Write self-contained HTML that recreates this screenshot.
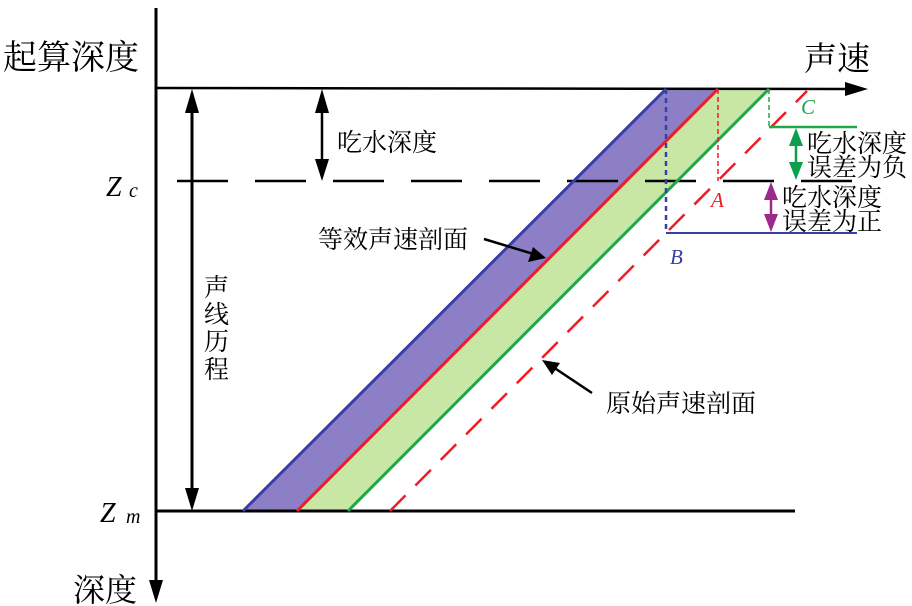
<!DOCTYPE html>
<html><head><meta charset="utf-8"><style>
html,body{margin:0;padding:0;background:#fff;}
svg{display:block;}
text{font-family:"Liberation Serif","Noto Serif CJK SC",serif;}
.cn{font-family:"Liberation Serif","Noto Serif CJK SC","Noto Sans CJK SC",serif;}
</style></head><body>
<svg width="912" height="606" viewBox="0 0 912 606" xmlns="http://www.w3.org/2000/svg">
<polygon points="243,511 666,89 718,89 297,511" fill="#8c7fc6"/>
<polygon points="297,511 718,89 769,89 348,511" fill="#c8e7a4"/>
<line x1="156" y1="8" x2="156" y2="588" stroke="#000" stroke-width="3"/>
<polygon points="149,580 163,580 156,603" fill="#000"/>
<line x1="157" y1="88" x2="850" y2="89" stroke="#000" stroke-width="2.5"/>
<polygon points="845,82 845,96 868,89" fill="#000"/>
<line x1="157" y1="511" x2="795" y2="511" stroke="#000" stroke-width="3"/>
<line x1="177" y1="181" x2="858" y2="181" stroke="#000" stroke-width="2.5" stroke-dasharray="51,27"/>
<line x1="243" y1="511" x2="666" y2="89" stroke="#3a3fa8" stroke-width="3"/>
<line x1="297" y1="511" x2="718" y2="89" stroke="#ee1c25" stroke-width="3"/>
<line x1="348" y1="511" x2="769" y2="89" stroke="#1fa84a" stroke-width="3"/>
<line x1="390" y1="511" x2="807" y2="91" stroke="#ee1c25" stroke-width="2.5" stroke-dasharray="22,14"/>
<line x1="666" y1="89" x2="666" y2="233" stroke="#3a3fa8" stroke-width="2.5" stroke-dasharray="5,4"/>
<line x1="718" y1="89" x2="718" y2="181" stroke="#ee1c25" stroke-width="1.5" stroke-dasharray="5,3"/>
<line x1="769" y1="89" x2="769" y2="127" stroke="#1fa84a" stroke-width="1.5" stroke-dasharray="5,3"/>
<line x1="666" y1="233" x2="857" y2="233" stroke="#3a3fa8" stroke-width="2"/>
<line x1="769" y1="127" x2="857" y2="127" stroke="#1fa84a" stroke-width="2.5"/>
<line x1="796" y1="138" x2="796" y2="170" stroke="#0aa04a" stroke-width="2.5"/>
<polygon points="789,146 803,146 796,128" fill="#0aa04a"/>
<polygon points="789,162 803,162 796,180" fill="#0aa04a"/>
<line x1="771" y1="192" x2="771" y2="222" stroke="#9b2a8a" stroke-width="2.5"/>
<polygon points="764,200 778,200 771,182" fill="#9b2a8a"/>
<polygon points="764,214 778,214 771,232" fill="#9b2a8a"/>
<line x1="192" y1="100" x2="192" y2="500" stroke="#000" stroke-width="3"/>
<polygon points="185,113 199,113 192,89" fill="#000"/>
<polygon points="185,488 199,488 192,511" fill="#000"/>
<line x1="322" y1="100" x2="322" y2="170" stroke="#000" stroke-width="2.5"/>
<polygon points="315,113 329,113 322,89" fill="#000"/>
<polygon points="315,159 329,159 322,181" fill="#000"/>
<line x1="484" y1="239" x2="540" y2="256" stroke="#000" stroke-width="2.5"/>
<polygon points="546,258 528,262 533,247" fill="#000"/>
<line x1="592" y1="393" x2="550" y2="365" stroke="#000" stroke-width="2.5"/>
<polygon points="542,360 560,363 552,375" fill="#000"/>
<text x="3" y="69" font-size="34" class="cn">起算深度</text>
<text x="804" y="70" font-size="33" class="cn">声速</text>
<text x="73" y="601" font-size="32" class="cn">深度</text>
<text x="337" y="151" font-size="25" class="cn">吃水深度</text>
<text x="318" y="248" font-size="25" class="cn">等效声速剖面</text>
<text x="606" y="412" font-size="25" class="cn">原始声速剖面</text>
<g font-size="25" class="cn"><text x="204" y="296">声</text><text x="204" y="323">线</text><text x="204" y="350">历</text><text x="204" y="378">程</text></g>
<text x="807" y="152" font-size="25" class="cn">吃水深度</text>
<text x="807" y="176" font-size="25" class="cn">误差为负</text>
<text x="782" y="206" font-size="25" class="cn">吃水深度</text>
<text x="782" y="230" font-size="25" class="cn">误差为正</text>
<text x="106" y="196" font-size="28" font-style="italic">Z</text><text x="129" y="197" font-size="20" font-style="italic">c</text>
<text x="100" y="522" font-size="28" font-style="italic">Z</text><text x="126" y="523" font-size="20" font-style="italic">m</text>
<text x="711" y="207" font-size="21" font-style="italic" fill="#ee1c25">A</text>
<text x="670" y="264" font-size="21" font-style="italic" fill="#3a3fa8">B</text>
<text x="801" y="114" font-size="21" font-style="italic" fill="#1fa84a">C</text>
</svg>
</body></html>
